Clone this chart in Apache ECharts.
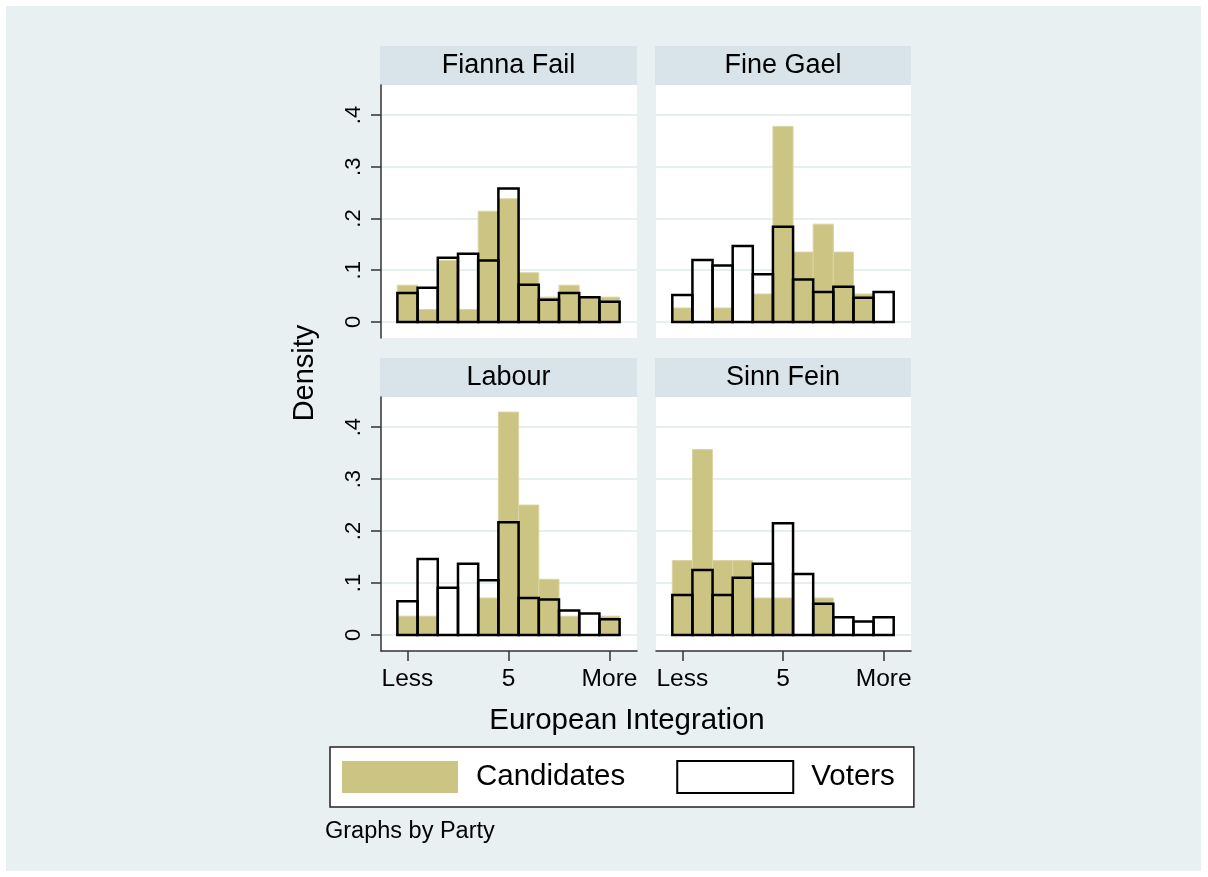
<!DOCTYPE html>
<html><head><meta charset="utf-8">
<script src="https://cdn.jsdelivr.net/npm/echarts@6/dist/echarts.min.js"></script>
<style>html,body{margin:0;padding:0;background:#fff;}#c{width:1208px;height:877px;}</style>
</head><body><div id="c"></div>
<script>
// ---- data ----
const parties = ['Fianna Fail', 'Fine Gael', 'Labour', 'Sinn Fein'];
const bins = [0, 1, 2, 3, 4, 5, 6, 7, 8, 9, 10];
const xTickValues = [0, 5, 10];
const xTickLabels = ['Less', '5', 'More'];
const yTickValues = [0, 0.1, 0.2, 0.3, 0.4];
const yTickLabels = ['0', '.1', '.2', '.3', '.4'];
const seriesNames = ['Candidates', 'Voters'];

const candFiannaFail = [0.071, 0.024, 0.119, 0.024, 0.214, 0.238, 0.095, 0.048, 0.071, 0.048, 0.048];
const votFiannaFail  = [0.056, 0.066, 0.124, 0.132, 0.119, 0.258, 0.072, 0.043, 0.056, 0.048, 0.039];
const candFineGael   = [0.027, 0, 0.027, 0, 0.054, 0.378, 0.135, 0.189, 0.135, 0.054, 0];
const votFineGael    = [0.052, 0.120, 0.109, 0.147, 0.092, 0.184, 0.082, 0.058, 0.068, 0.047, 0.058];
const candLabour     = [0.036, 0.036, 0, 0, 0.071, 0.429, 0.250, 0.107, 0.036, 0, 0.036];
const votLabour      = [0.065, 0.146, 0.091, 0.137, 0.105, 0.217, 0.071, 0.068, 0.047, 0.041, 0.030];
const candSinnFein   = [0.143, 0.357, 0.143, 0.143, 0.071, 0.071, 0, 0.071, 0, 0, 0];
const votSinnFein    = [0.077, 0.125, 0.077, 0.110, 0.137, 0.215, 0.117, 0.060, 0.034, 0.026, 0.034];

// ---- layout / style ----
const FONT = '"Liberation Sans", Arial, Helvetica, sans-serif';
const GOLD = '#ccc483';
const GOLD_EDGE = '#dad4a3';
const BG = '#e9f0f2';
const STRIP = '#d8e4ea';
const AXIS = '#333';

const panelCand = [candFiannaFail, candFineGael, candLabour, candSinnFein];
const panelVot = [votFiannaFail, votFineGael, votLabour, votSinnFein];
const layout = [
  {left: 381, top: 85, width: 256, height: 253, sx: 380, sw: 257, stop: 46, showX: false, showY: true},
  {left: 656, top: 85, width: 255, height: 253, sx: 655, sw: 256, stop: 46, showX: false, showY: false},
  {left: 381, top: 397, width: 256, height: 254, sx: 380, sw: 257, stop: 358, showX: true, showY: true},
  {left: 656, top: 397, width: 255, height: 254, sx: 655, sw: 256, stop: 358, showX: true, showY: false}
];

function findIdx(arr, v) { return arr.findIndex(t => Math.abs(t - v) < 1e-9); }

function makeRender(kind) {
  return function (params, api) {
    const x = api.value(0), y = api.value(1);
    if (!y) return null;
    const p1 = api.coord([x - 0.5, y]);
    const p0 = api.coord([x + 0.5, 0]);
    const shape = {x: p1[0], y: p1[1], width: p0[0] - p1[0], height: p0[1] - p1[1]};
    if (kind === 'cand') {
      return {type: 'rect', shape, style: {fill: GOLD, stroke: GOLD_EDGE, lineWidth: 1}};
    }
    return {type: 'rect', shape, style: {fill: 'rgba(0,0,0,0)', stroke: '#000', lineWidth: 2.5}};
  };
}

const grids = [], xAxes = [], yAxes = [], series = [], graphics = [];
graphics.push({type: 'rect', shape: {x: 6, y: 6, width: 1195, height: 865}, style: {fill: BG}, z: -100, silent: true});

layout.forEach((L, i) => {
  grids.push({left: L.left, top: L.top, width: L.width, height: L.height, show: true, backgroundColor: '#fff', borderWidth: 0});
  xAxes.push({
    gridIndex: i, type: 'value', min: -1.31, max: 11.36,
    axisLine: {show: L.showX, onZero: false, lineStyle: {color: AXIS, width: 1.5}},
    axisTick: {show: L.showX, length: 10, customValues: xTickValues, lineStyle: {color: AXIS, width: 1.5}},
    axisLabel: {show: L.showX, customValues: xTickValues, margin: 16, fontSize: 24.5, color: '#000', fontFamily: FONT,
      formatter: v => xTickLabels[findIdx(xTickValues, v)]},
    splitLine: {show: false}
  });
  yAxes.push({
    gridIndex: i, type: 'value', min: -0.031, max: 0.458,
    axisLine: {show: L.showY, onZero: false, lineStyle: {color: AXIS, width: 1.5}},
    axisTick: {show: L.showY, length: 10, customValues: yTickValues, lineStyle: {color: AXIS, width: 1.5}},
    axisLabel: {show: L.showY, customValues: yTickValues, rotate: 90, margin: 16, fontSize: 22, color: '#000', fontFamily: FONT,
      formatter: v => yTickLabels[findIdx(yTickValues, v)]},
    splitLine: {show: true, lineStyle: {color: '#e7eff1', width: 2}}
  });
  series.push({
    type: 'custom', name: seriesNames[0], xAxisIndex: i, yAxisIndex: i, z: 2,
    itemStyle: {color: GOLD},
    data: bins.map((b, k) => [b, panelCand[i][k]]),
    renderItem: makeRender('cand')
  });
  series.push({
    type: 'custom', name: seriesNames[1], xAxisIndex: i, yAxisIndex: i, z: 3,
    itemStyle: {color: '#fff'},
    data: bins.map((b, k) => [b, panelVot[i][k]]),
    renderItem: makeRender('vot')
  });
  graphics.push({type: 'rect', shape: {x: L.sx, y: L.stop, width: L.sw, height: 39}, style: {fill: STRIP}, z: -50, silent: true});
  graphics.push({type: 'text', x: L.sx + L.sw / 2, y: L.stop + 20, z: 10, silent: true,
    style: {text: parties[i], font: '27px ' + FONT, fill: '#000', textAlign: 'center', textVerticalAlign: 'middle'}});
});

graphics.push({type: 'text', x: 305, y: 373, rotation: Math.PI / 2, z: 10, silent: true,
  style: {text: 'Density', font: '29px ' + FONT, fill: '#000', textAlign: 'center', textVerticalAlign: 'middle'}});
graphics.push({type: 'text', x: 627, y: 721, z: 10, silent: true,
  style: {text: 'European Integration', font: '29.5px ' + FONT, fill: '#000', textAlign: 'center', textVerticalAlign: 'middle'}});
graphics.push({type: 'text', x: 325, y: 832, z: 10, silent: true,
  style: {text: 'Graphs by Party', font: '23.5px ' + FONT, fill: '#000', textAlign: 'left', textVerticalAlign: 'middle'}});

const option = {
  animation: false,
  grid: grids, xAxis: xAxes, yAxis: yAxes, series: series,
  legend: {
    left: 330, top: 747, orient: 'horizontal', selectedMode: false,
    backgroundColor: '#fff', borderColor: '#222', borderWidth: 1.5,
    padding: [13, 19, 13, 12], itemWidth: 116, itemHeight: 32, itemGap: 51,
    textStyle: {fontSize: 29.5, fontFamily: FONT, color: '#000', padding: [0, 0, 0, 13]},
    data: [
      {name: seriesNames[0], icon: 'rect', itemStyle: {color: GOLD, borderWidth: 0}},
      {name: seriesNames[1], icon: 'rect', itemStyle: {color: '#fff', borderColor: '#000', borderWidth: 2}}
    ]
  },
  graphic: graphics
};
const chart = echarts.init(document.getElementById('c'));
chart.setOption(option);
</script>
</body></html>
